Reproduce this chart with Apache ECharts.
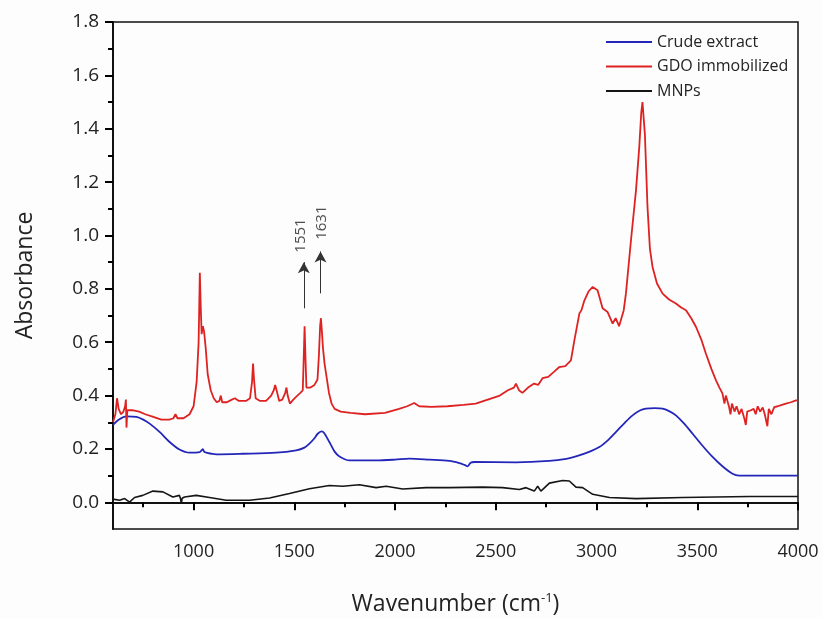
<!DOCTYPE html>
<html>
<head>
<meta charset="utf-8">
<script src="https://cdn.jsdelivr.net/npm/echarts@6.0.0/dist/echarts.min.js"></script>
<style>
  html, body { margin: 0; padding: 0; background: #fdfdfd; }
  #chart { width: 823px; height: 619px; }
</style>
</head>
<body>
<div id="chart"></div>
<script>
// wavenumber / absorbance
const gdoX = [600, 612, 620, 628, 640, 652, 660, 664, 667, 671, 680, 700, 730, 760, 800, 840, 880, 900, 910, 920, 950, 980,
  1000, 1015, 1025, 1031, 1036, 1040, 1046, 1052, 1060, 1070, 1085, 1100, 1115, 1128, 1135, 1142, 1165, 1190, 1205, 1225,
  1260, 1280, 1290, 1295, 1300, 1308, 1330, 1360, 1385, 1398, 1405, 1412, 1425, 1440, 1455, 1461, 1467, 1478, 1495, 1515,
  1530, 1542, 1547, 1551, 1555, 1560, 1580, 1600, 1615, 1622, 1628, 1632, 1636, 1642, 1650, 1660, 1672, 1685, 1700, 1730,
  1780, 1850, 1950, 2020, 2060, 2095, 2120, 2180, 2260, 2340, 2400, 2460, 2520, 2560, 2590, 2600, 2615, 2632, 2660, 2690,
  2710, 2732, 2760, 2790, 2815, 2845, 2873, 2890, 2915, 2925, 2940, 2960, 2981, 3005, 3030, 3055, 3080, 3095, 3104, 3112,
  3121, 3135, 3146, 3171, 3196, 3212, 3222, 3228, 3234, 3240, 3253, 3265, 3278, 3300, 3328, 3360, 3394, 3420, 3444, 3470,
  3494, 3520, 3543, 3570, 3593, 3610, 3625, 3635, 3642, 3658, 3665, 3672, 3685, 3695, 3708, 3720, 3735, 3741, 3748, 3766,
  3780, 3790, 3800, 3812, 3825, 3835, 3848, 3855, 3868, 3882, 3900, 3920, 3940, 3965, 3990, 4000];
const gdoY = [0.30, 0.33, 0.39, 0.35, 0.33, 0.34, 0.36, 0.385, 0.28, 0.345, 0.34, 0.345, 0.34, 0.33, 0.32, 0.31, 0.31, 0.315, 0.33, 0.315, 0.315, 0.33,
  0.36, 0.45, 0.60, 0.86, 0.72, 0.63, 0.66, 0.64, 0.58, 0.48, 0.42, 0.39, 0.375, 0.38, 0.40, 0.375, 0.375, 0.385, 0.39, 0.38,
  0.38, 0.39, 0.45, 0.52, 0.46, 0.39, 0.38, 0.38, 0.40, 0.42, 0.44, 0.42, 0.38, 0.385, 0.41, 0.43, 0.40, 0.37, 0.385, 0.40,
  0.41, 0.42, 0.55, 0.66, 0.55, 0.43, 0.43, 0.44, 0.46, 0.55, 0.66, 0.69, 0.65, 0.58, 0.52, 0.47, 0.41, 0.37, 0.35, 0.34,
  0.335, 0.33, 0.335, 0.35, 0.36, 0.372, 0.36, 0.358, 0.36, 0.365, 0.37, 0.385, 0.40, 0.42, 0.43, 0.445, 0.42, 0.41, 0.43, 0.445,
  0.44, 0.465, 0.47, 0.49, 0.507, 0.51, 0.532, 0.607, 0.708, 0.72, 0.757, 0.79, 0.807, 0.795, 0.727, 0.713, 0.67, 0.69, 0.695, 0.66,
  0.657, 0.72, 0.783, 0.982, 1.17, 1.33, 1.46, 1.50, 1.44, 1.38, 1.107, 0.95, 0.882, 0.82, 0.782, 0.76, 0.745, 0.73, 0.72, 0.69,
  0.657, 0.61, 0.557, 0.50, 0.457, 0.43, 0.408, 0.37, 0.40, 0.357, 0.33, 0.37, 0.34, 0.36, 0.33, 0.35, 0.31, 0.29, 0.34, 0.345,
  0.35, 0.33, 0.36, 0.34, 0.355, 0.33, 0.285, 0.35, 0.33, 0.357, 0.36, 0.365, 0.37, 0.375, 0.382, 0.382];

const crudeX = [600, 630, 666, 716, 750, 782, 831, 881, 930, 980, 1030, 1040, 1046, 1052, 1063, 1112, 1244, 1410, 1509, 1550,
  1575, 1600, 1616, 1635, 1648, 1674, 1700, 1724, 1774, 1906, 2000, 2071, 2171, 2270, 2319, 2345, 2360, 2375, 2394, 2600,
  2766, 2850, 2898, 2960, 3014, 3060, 3097, 3140, 3179, 3215, 3245, 3290, 3328, 3365, 3394, 3435, 3477, 3525, 3576, 3625,
  3675, 3708, 3800, 4000];
const crudeY = [0.29, 0.31, 0.322, 0.32, 0.31, 0.295, 0.264, 0.226, 0.198, 0.186, 0.188, 0.195, 0.199, 0.19, 0.186, 0.18, 0.182, 0.186, 0.195, 0.205,
  0.22, 0.24, 0.257, 0.266, 0.26, 0.226, 0.19, 0.172, 0.157, 0.157, 0.16, 0.164, 0.16, 0.155, 0.147, 0.14, 0.135, 0.148, 0.151, 0.15,
  0.155, 0.163, 0.172, 0.188, 0.207, 0.235, 0.264, 0.298, 0.326, 0.344, 0.351, 0.353, 0.351, 0.34, 0.326, 0.295, 0.257, 0.213, 0.17, 0.135,
  0.107, 0.10, 0.10, 0.10];

const mnpX = [600, 608, 633, 658, 682, 707, 748, 798, 848, 897, 930, 936, 939, 943, 955, 1013, 1079, 1162, 1278, 1377, 1476,
  1575, 1674, 1740, 1823, 1906, 1956, 2038, 2154, 2270, 2435, 2534, 2617, 2650, 2691, 2708, 2724, 2766, 2832, 2865, 2898,
  2931, 2981, 3064, 3196, 3427, 3758, 4000];
const mnpY = [0.012, 0.014, 0.008, 0.014, 0.001, 0.018, 0.026, 0.042, 0.039, 0.02, 0.026, 0.01, -0.005, 0.015, 0.02, 0.026, 0.018, 0.008, 0.008, 0.016, 0.033,
  0.051, 0.063, 0.06, 0.066, 0.055, 0.06, 0.05, 0.055, 0.055, 0.057, 0.055, 0.048, 0.055, 0.042, 0.06, 0.042, 0.072, 0.082, 0.08, 0.057,
  0.055, 0.03, 0.018, 0.014, 0.018, 0.022, 0.022];

const seriesNames = ['Crude extract', 'GDO immobilized', 'MNPs'];
const xMajor = [1000, 1500, 2000, 2500, 3000, 3500, 4000];
const xMinor = [750, 1250, 1750, 2250, 2750, 3250, 3750];
const yMajor = [0, 0.2, 0.4, 0.6, 0.8, 1.0, 1.2, 1.4, 1.6, 1.8];
const yMinor = [0.1, 0.3, 0.5, 0.7, 0.9, 1.1, 1.3, 1.5, 1.7];
// peak markers
const peakLabels = ['1551', '1631'];
const peakX = [1547, 1630];
const arrowFrom = [0.727, 0.783];
const arrowTo = [0.90, 0.94];
const labelX = [1534, 1637];
const labelY = [1.0, 1.048];

const zip = (xs, ys) => xs.map((x, i) => [x, ys[i]]);
const font = '"Open Sans", sans-serif';
const tickStyle = { color: '#000', width: 2 };

const chart = echarts.init(document.getElementById('chart'));
chart.setOption({
  backgroundColor: '#fdfdfd',
  animation: false,
  grid: { left: 113, right: 25, top: 22, bottom: 90, show: true, borderColor: '#111', borderWidth: 1.5, outerBoundsMode: 'none' },
  legend: {
    data: seriesNames, orient: 'vertical', left: 601, top: 27,
    icon: 'rect', itemWidth: 46, itemHeight: 2, itemGap: 4.5,
    textStyle: { fontFamily: font, fontSize: 16, color: '#222', lineHeight: 20 }
  },
  xAxis: [{
    type: 'value', min: 600, max: 4000,
    name: 'Wavenumber (cm{sup|-1})', nameLocation: 'middle', nameGap: 63,
    nameTextStyle: { fontFamily: font, fontSize: 23, color: '#222',
      rich: { sup: { fontFamily: font, fontSize: 13, color: '#222', verticalAlign: 'top', padding: [0, 0, 12, 0] } } },
    splitLine: { show: false },
    axisLine: { lineStyle: { color: '#111', width: 2 } },
    axisTick: { show: true, inside: false, customValues: xMajor, length: 8, lineStyle: tickStyle },
    axisLabel: { customValues: xMajor, margin: 14, fontFamily: font, fontSize: 18, color: '#222',
      formatter: v => String(v) }
  }, {
    type: 'value', min: 600, max: 4000, position: 'bottom',
    splitLine: { show: false }, axisLine: { show: false },
    axisTick: { show: true, inside: false, customValues: xMinor, length: 5, lineStyle: tickStyle },
    axisLabel: { show: false }
  }],
  yAxis: [{
    type: 'value', min: -0.1, max: 1.8,
    name: 'Absorbance', nameLocation: 'middle', nameGap: 76,
    nameTextStyle: { fontFamily: font, fontSize: 23, color: '#222' },
    splitLine: { show: false },
    axisLine: { lineStyle: { color: '#111', width: 2 } },
    axisTick: { show: true, inside: false, customValues: yMajor, length: 8, lineStyle: tickStyle },
    axisLabel: { customValues: yMajor, margin: 14, fontFamily: font, fontSize: 19, color: '#222',
      formatter: v => v.toFixed(1) }
  }, {
    type: 'value', min: -0.1, max: 1.8, position: 'left',
    splitLine: { show: false }, axisLine: { show: false },
    axisTick: { show: true, inside: false, customValues: yMinor, length: 5, lineStyle: tickStyle },
    axisLabel: { show: false }
  }],
  series: [
    { name: 'Crude extract', type: 'line', data: zip(crudeX, crudeY), showSymbol: false, smooth: 0.3,
      lineStyle: { color: '#2326b8', width: 1.8 }, itemStyle: { color: '#2326b8' } },
    { name: 'GDO immobilized', type: 'line', data: zip(gdoX, gdoY), showSymbol: false,
      lineStyle: { color: '#de2222', width: 1.8 }, itemStyle: { color: '#de2222' },
      markLine: {
        silent: true, symbol: ['none', 'arrow'], symbolSize: [9, 11],
        label: { show: false },
        lineStyle: { color: '#333', width: 1, type: 'solid' },
        itemStyle: { color: '#111' },
        data: peakX.map((x, i) => [{ coord: [x, arrowFrom[i]] }, { coord: [x, arrowTo[i]] }])
      } },
    { name: 'MNPs', type: 'line', data: zip(mnpX, mnpY), showSymbol: false,
      lineStyle: { color: '#151515', width: 1.6 }, itemStyle: { color: '#151515' } },
    { name: 'peaks', type: 'scatter', symbolSize: 0, silent: true,
      data: labelX.map((x, i) => [x, labelY[i], peakLabels[i]]),
      label: { show: true, position: 'inside', rotate: 90, formatter: p => p.value[2],
        fontFamily: font, fontSize: 15, color: '#222' } }
  ]
});
</script>
</body>
</html>
